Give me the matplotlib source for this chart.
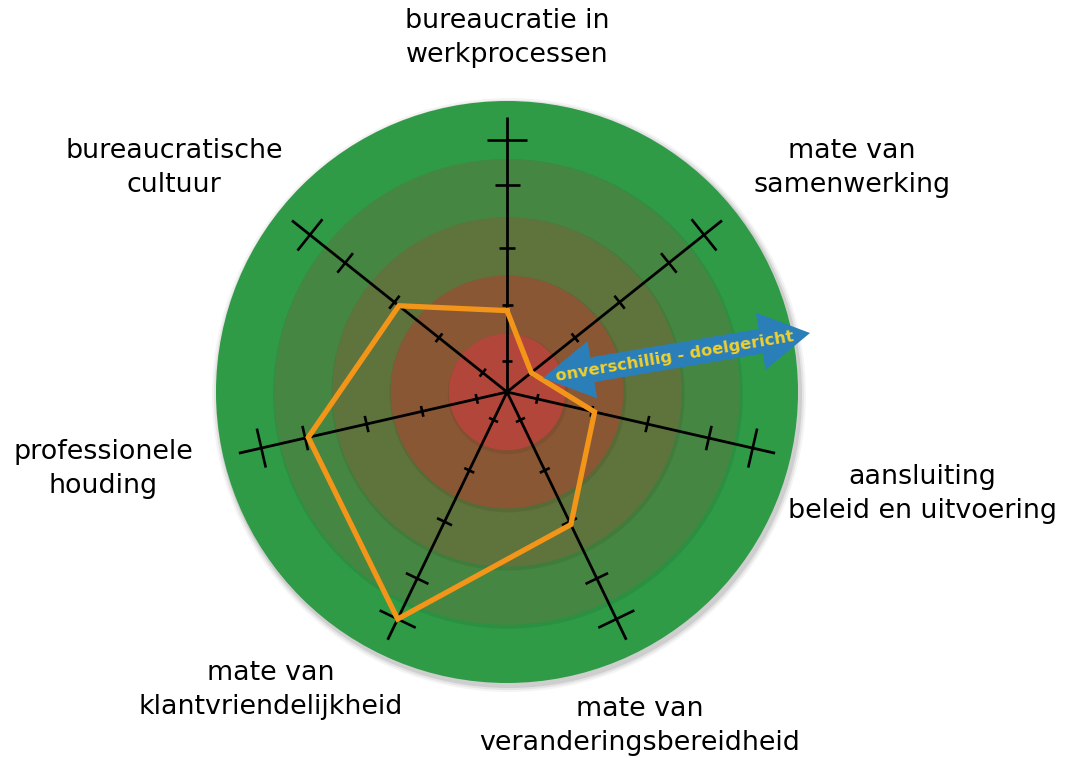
import numpy as np
import matplotlib.pyplot as plt
from matplotlib.patches import Circle, FancyArrow

# axis labels, clockwise starting at the top
labels = [
    "bureaucratie in\nwerkprocessen",
    "mate van\nsamenwerking",
    "aansluiting\nbeleid en uitvoering",
    "mate van\nveranderingsbereidheid",
    "mate van\nklantvriendelijkheid",
    "professionele\nhouding",
    "bureaucratische\ncultuur",
]
scores = [1.9, 1.0, 2.05, 3.05, 5.0, 3.95, 2.9]
tick_levels = [1, 2, 3, 4, 5]
# rings from the centre outwards: red -> green
ring_colors = ["#b3463a", "#8a5735", "#5f743c", "#458742", "#2f9b47"]
arrow_text = "onverschillig - doelgericht"

W, H = 1065, 758
fig = plt.figure(figsize=(W / 100, H / 100), dpi=100)
ax = fig.add_axes([0, 0, 1, 1])
ax.set_xlim(0, W)
ax.set_ylim(H, 0)
ax.set_aspect("equal")
ax.axis("off")

cx, cy = 507, 392
R = 291
axis_len = 275
# radius of each tick along an axis, and half-length of the tick mark
tick_r = [0, 31, 87, 144, 207, 252]
tick_half = [5, 5.5, 8.3, 12.5, 20]


def to_xy(r, ang):
    return cx + r * np.cos(ang), cy - r * np.sin(ang)


# soft shadow round the disc
for k, a in [(6, 0.05), (4, 0.08), (2, 0.12)]:
    ax.add_patch(Circle((cx + 2, cy + 3), R + k, color="0.2", alpha=a, lw=0, zorder=0))

n_ring = len(ring_colors)
for i in range(n_ring - 1, -1, -1):
    rr = R * (i + 1) / n_ring
    if i < n_ring - 1:
        ax.add_patch(Circle((cx + 1, cy + 2), rr + 2, color="black", alpha=0.07, lw=0, zorder=1))
    ax.add_patch(Circle((cx, cy), rr, color=ring_colors[i], lw=0, zorder=1))

n = len(labels)
angles = np.deg2rad(90 - 360 / n * np.arange(n))

for ang in angles:
    x1, y1 = to_xy(axis_len, ang)
    ax.plot([cx, x1], [cy, y1], color="black", lw=2.0, zorder=3, solid_capstyle="butt")
    px, py = -np.sin(ang), -np.cos(ang)
    for lev, h in zip(tick_levels, tick_half):
        tx, ty = to_xy(np.interp(lev, range(6), tick_r), ang)
        ax.plot([tx - h * px, tx + h * px], [ty - h * py, ty + h * py],
                color="black", lw=1.9, zorder=3, solid_capstyle="butt")

# score polygon
rad = np.interp(scores, range(6), tick_r)
xs, ys = to_xy(rad, angles)
ax.plot(np.append(xs, xs[0]), np.append(ys, ys[0]), color="#f39519", lw=3.8,
        zorder=4, solid_joinstyle="miter")

# labels
label_pos = [(507, 38), (852, 168), (922, 494), (640, 726), (271, 690), (103, 469), (174, 168)]
for txt, (lx, ly) in zip(labels, label_pos):
    ax.text(lx, ly, txt, ha="center", va="center", fontsize=19.4, color="black",
            family="DejaVu Sans", linespacing=1.38)

# double arrow
p0 = np.array([543.0, 378.0])
p1 = np.array([810.0, 333.0])
mid = (p0 + p1) / 2
for tip in (p0, p1):
    d = tip - mid
    u = d / np.linalg.norm(d)
    start = mid - u * 2
    ax.add_patch(FancyArrow(start[0], start[1], tip[0] - start[0], tip[1] - start[1],
                            width=25, head_width=58, head_length=50,
                            length_includes_head=True, color="#2b7fb9", lw=0, zorder=5))
rot = np.degrees(np.arctan2(p0[1] - p1[1], p1[0] - p0[0]))
ax.text(mid[0] - 2, mid[1] + 1, arrow_text, rotation=rot, rotation_mode="anchor",
        ha="center", va="center", fontsize=11.7, fontweight="bold", color="#f2d02c", zorder=6)

fig.savefig("out.png", dpi=100)
